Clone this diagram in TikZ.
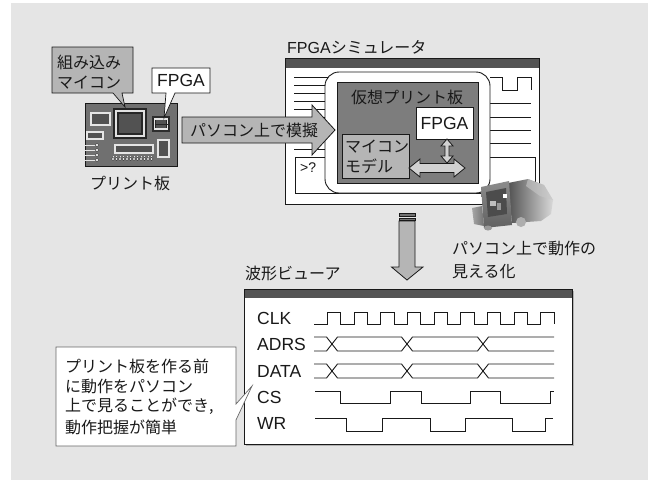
\documentclass[tikz,border=0pt]{standalone}
\usepackage{fontspec}
\setmainfont{Liberation Sans}
\newfontfamily\jpfont{Noto Sans CJK JP}
\definecolor{bgc}{gray}{0.90}
\definecolor{boardc}{gray}{0.44}
\definecolor{calloutc}{gray}{0.71}
\definecolor{vboardc}{gray}{0.49}
\definecolor{barc}{gray}{0.33}
\definecolor{linec}{gray}{0.10}
\begin{document}
\begin{tikzpicture}[x=1pt,y=-1pt,
  jp/.style={inner sep=0pt, font=\fontsize{16}{20}\selectfont\jpfont, text=linec},
  lat/.style={inner sep=0pt, font=\fontsize{17.5}{20}\selectfont, text=linec},
  frameln/.style={draw=linec, line width=0.9pt},
  thinln/.style={draw=linec, line width=0.7pt},
  wave/.style={draw=linec, line width=0.9pt, line join=miter},
  part/.style={draw=black!85, double=black!10, double distance=1.2pt, line width=0.6pt, fill=black!68},
  pin/.style={draw=black!80, line width=0.4pt, fill=black!8},
  bigarrow/.style={draw=linec, line width=0.8pt, fill=calloutc},
  dblarrow/.style={draw=linec, line width=0.8pt, fill=black!18},
]
\useasboundingbox (0,0) rectangle (648,480);
\fill[bgc] (11,3) rectangle (648,480);

% ---------------- printed circuit board ----------------
\draw[frameln, fill=boardc] (85,103) rectangle (177,166);
\draw[draw=black!85, double=black!12, double distance=2.6pt, line width=1.4pt, fill=black!68] (116,111) rectangle (144,136);
\draw[part] (91,113) rectangle (110,125);
\draw[part] (87,132) rectangle (103,139);
\draw[part] (115,145) rectangle (153,153);
\draw[part] (158,140) rectangle (169,157);
\fill[black!82] (152,116) rectangle (170,132);
\draw[part] (154.5,119) rectangle (167.5,129);
\draw[black!85, line width=0.6pt] (154.5,124) -- (167.5,124);
\foreach \y in {145,150,155,160} {
  \draw[black!10, line width=0.8pt] (85,\y) -- (97,\y);
  \draw[pin] (97,\y) circle (1.8);
}
\foreach \i in {0,...,11} {
  \draw[black!10, line width=0.6pt] (113+3.5*\i,156) -- (113+3.5*\i,159);
  \draw[pin] (113+3.5*\i,159) circle (1.6);
}
\node[jp] (boardlabel) at (130,183) {プリント板};

% callout: embedded microcontroller
\draw[thinln, fill=calloutc] (52,47) -- (133,47) -- (133,93) -- (122,93) -- (125,107) -- (113,93) -- (52,93) -- cycle;
\node[jp, anchor=west] (mcu1) at (57,62) {組み込み};
\node[jp, anchor=west] (mcu2) at (57,83) {マイコン};

% callout: FPGA
\draw[thinln, fill=white] (152,68) -- (210,68) -- (210,93) -- (175,93) -- (164,118) -- (166,93) -- (152,93) -- cycle;
\node[lat] (fpgalabel) at (181,80.5) {FPGA};

% ---------------- FPGA simulator window ----------------
\node[jp, anchor=west] (simtitle) at (287,47) {{\rmfamily FPGA}シミュレータ};
\draw[frameln, fill=white] (285,58) rectangle (539,204);
\fill[barc] (285,58) rectangle (539,68);
\draw[frameln] (285,58) rectangle (539,204);
% listing lines, left
\foreach \k in {0,...,9} {
  \draw[thinln] (294,77+8*\k) -- (330,77+8*\k);
}
% console pane
\draw[thinln, fill=white] (295,157) rectangle (535,193);
\node[inner sep=0pt, font=\fontsize{14}{16}\selectfont, text=linec, anchor=west] (prompt) at (300,168) {>?};
% clock glyph and lines, right
\draw[thinln] (490,77) -- (502,77) -- (502,90) -- (517,90) -- (517,77) -- (531,77) -- (531,90);
\foreach \y in {103,117,130,143} {
  \draw[thinln] (488,\y) -- (531,\y);
}
% virtual board holder
\draw[frameln, fill=white, rounded corners=14pt] (325,72) rectangle (490,193);
\draw[frameln, fill=vboardc] (337,82) rectangle (478,183);
\node[jp] (vboard) at (407,97) {仮想プリント板};
\draw[frameln, fill=white] (416,107) rectangle (473,139);
\node[lat] (vfpga) at (444.5,123.5) {FPGA};
\draw[frameln, fill=calloutc] (342,134) rectangle (409,178);
\node[jp, anchor=west] (model1) at (345,147) {マイコン};
\node[jp, anchor=west] (model2) at (345,166) {モデル};
% bus arrows
\draw[dblarrow] (447,139) -- (441,146) -- (445,146) -- (445,156) -- (441,156) -- (447,163) -- (453,156) -- (449,156) -- (449,146) -- (453,146) -- cycle;
\draw[dblarrow] (409,168) -- (420,159) -- (420,163.5) -- (454,163.5) -- (454,159) -- (465,168) -- (454,177) -- (454,172.5) -- (420,172.5) -- (420,177) -- cycle;

% emulate-on-PC arrow
\draw[bigarrow] (182,117) -- (312,117) -- (312,105) -- (335,130) -- (312,155) -- (312,143) -- (182,143) -- cycle;
\node[jp] (emulate) at (254,130) {パソコン上で模擬};

% ---------------- desktop computer ----------------
% cabinet, seen from the front left
\shade[left color=black!68, right color=black!15] (508,183) -- (528,179) -- (544,185) -- (553,200) -- (551,214) -- (541,221) -- (512,223) -- cycle;
\fill[black!22, opacity=0.6] (528,179) -- (544,185) -- (553,200) -- (540,196) -- (526,186) -- cycle;
% front bezel and screen
\shade[top color=black!45, bottom color=black!62] (481,187) -- (509,181) -- (512,225) -- (484,228) -- cycle;
\fill[black!70] (486,192) -- (506,188) -- (507,214) -- (488,217) -- cycle;
\fill[white] (503,194) rectangle (506.5,198);
\fill[black!25] (490,201) rectangle (496,205.5);
\fill[black!40] (497,203) rectangle (501,210);
% side box and feet
\shade[left color=black!35, right color=black!55] (472,208) -- (482,206) -- (484,226) -- (474,224) -- cycle;
\fill[black!32] (521,222) circle (5);
\fill[black!40] (488,228) ellipse (4 and 2.5);
\node[jp, anchor=west] (vis1) at (452,248) {パソコン上で動作の};
\node[jp, anchor=west] (vis2) at (452,272) {見える化};

% down arrow to the viewer
\draw[bigarrow] (399,221) -- (415,221) -- (415,267) -- (423,267) -- (407,280) -- (391.5,267) -- (399,267) -- cycle;
\draw[thinln, fill=black!55] (399,213) rectangle (415,216);
\draw[thinln, fill=black!55] (399,218) rectangle (415,220.5);

% ---------------- waveform viewer ----------------
\node[jp, anchor=west] (viewtitle) at (245,273) {波形ビューア};
\fill[black!30] (246,291) rectangle (574,446);
\draw[frameln, fill=white] (244,289) rectangle (572,444);
\fill[barc] (244,289) rectangle (572,298);
\draw[frameln] (244,289) rectangle (572,444);

\node[lat, anchor=west] (clk) at (257,318) {CLK};
\node[lat, anchor=west] (adrs) at (257,344) {ADRS};
\node[lat, anchor=west] (data) at (257,371) {DATA};
\node[lat, anchor=west] (cs) at (257,397) {CS};
\node[lat, anchor=west] (wr) at (257,423) {WR};

% CLK
\draw[wave] (314,324)
  \foreach \k in {0,...,8} { -- ({327.3+26.7*\k},324) -- ({327.3+26.7*\k},312) -- ({340.6+26.7*\k},312) -- ({340.6+26.7*\k},324) };
% ADRS and DATA buses
\foreach \t/\b in {337/351, 364/378} {
  \draw[wave] (314,\t) -- (326.5,\t) -- (337.5,\b) -- (401.5,\b) -- (412.5,\t) -- (477.5,\t) -- (488.5,\b) -- (554,\b);
  \draw[wave] (314,\b) -- (326.5,\b) -- (337.5,\t) -- (401.5,\t) -- (412.5,\b) -- (477.5,\b) -- (488.5,\t) -- (554,\t);
}
% CS
\draw[wave] (315,391) -- (340,391) -- (340,403) -- (390,403) -- (390,391) -- (421,391) -- (421,403) -- (470,403) -- (470,391) -- (500,391) -- (500,403) -- (550,403) -- (550,391) -- (554,391);
% WR
\draw[wave] (315,418) -- (346,418) -- (346,431) -- (382,431) -- (382,418) -- (430,418) -- (430,431) -- (465,431) -- (465,418) -- (512,418) -- (512,431) -- (545,431) -- (545,418) -- (553,418);

% callout: benefit
\draw[draw=black!60, line width=0.7pt, fill=white] (56,347) -- (236,347) -- (236,404) -- (252,386) -- (236,420) -- (236,446) -- (56,446) -- cycle;
\node[jp, anchor=west] (note1) at (65,366) {プリント板を作る前};
\node[jp, anchor=west] (note2) at (65,386) {に動作をパソコン};
\node[jp, anchor=west] (note3) at (65,406) {上で見ることができ,};
\node[jp, anchor=west] (note4) at (65,427) {動作把握が簡単};
\end{tikzpicture}
\end{document}
